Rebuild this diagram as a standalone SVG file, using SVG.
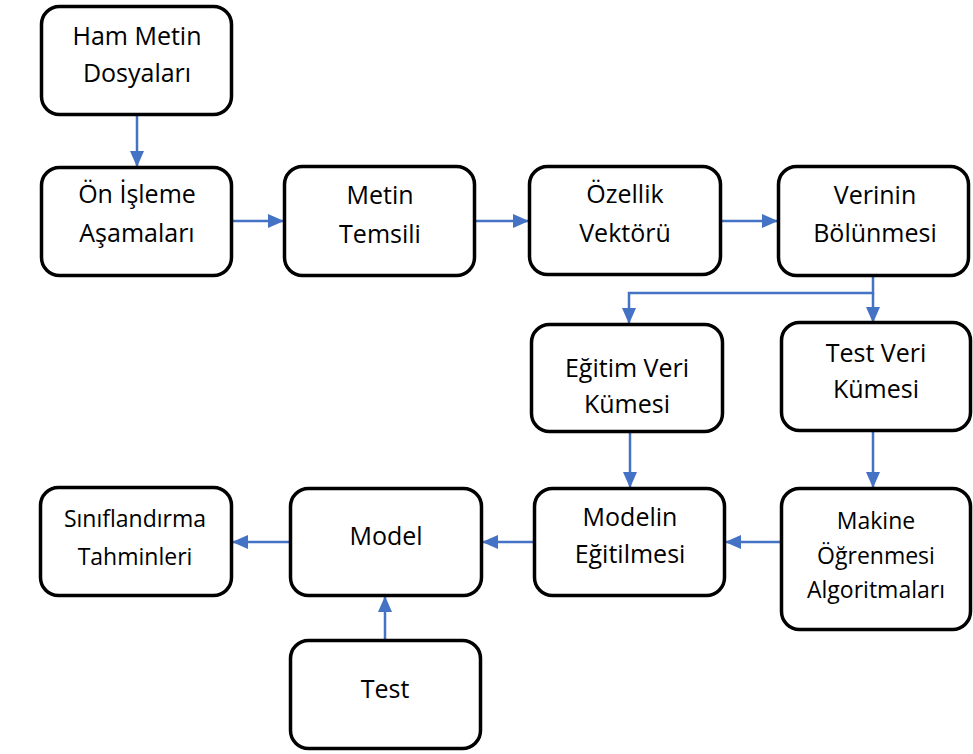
<svg xmlns="http://www.w3.org/2000/svg" width="973" height="754" viewBox="0 0 973 754">
<style>
.box{fill:#fff;stroke:#000;stroke-width:3.5}
.t{font-family:"Open Sans","Liberation Sans",sans-serif;font-size:25px;fill:#000;text-anchor:middle}
.s{font-size:23px}
.c{fill:none;stroke:#4472C4;stroke-width:2.5}
</style>
<defs>
<marker id="ah" markerUnits="userSpaceOnUse" markerWidth="16" markerHeight="16" viewBox="0 0 16 16" refX="15" refY="8" orient="auto">
<path d="M0,1 L16,8 L0,15 Z" fill="#4472C4"/>
</marker>
</defs>
<rect width="973" height="754" fill="#fff"/>
<g id="connectors">
<path class="c" d="M137,116 V166" marker-end="url(#ah)"/>
<path class="c" d="M233,221 H283" marker-end="url(#ah)"/>
<path class="c" d="M476,221 H528" marker-end="url(#ah)"/>
<path class="c" d="M722,221 H777" marker-end="url(#ah)"/>
<path class="c" d="M873,276 V293 H629 V323" marker-end="url(#ah)"/>
<path class="c" d="M873,293 V322" marker-end="url(#ah)"/>
<path class="c" d="M630,433 V487" marker-end="url(#ah)"/>
<path class="c" d="M873,432 V487" marker-end="url(#ah)"/>
<path class="c" d="M780,542 H726" marker-end="url(#ah)"/>
<path class="c" d="M533,542 H483" marker-end="url(#ah)"/>
<path class="c" d="M289,542 H233" marker-end="url(#ah)"/>
<path class="c" d="M385,639 V597" marker-end="url(#ah)"/>
</g>
<g id="n1"><rect class="box" x="41.5" y="6.5" width="190" height="108" rx="18"/>
<text class="t" x="137" y="45">Ham Metin</text><text class="t" x="137" y="82">Dosyaları</text></g>
<g id="n2"><rect class="box" x="41.5" y="167.5" width="190" height="108" rx="18"/>
<text class="t" x="137" y="203">Ön İşleme</text><text class="t" x="137" y="242">Aşamaları</text></g>
<g id="n3"><rect class="box" x="284.5" y="166.5" width="190" height="109" rx="18"/>
<text class="t" x="380" y="204">Metin</text><text class="t" x="380" y="243">Temsili</text></g>
<g id="n4"><rect class="box" x="529.5" y="166.5" width="191" height="108" rx="18"/>
<text class="t" x="625" y="203">Özellik</text><text class="t" x="625" y="242">Vektörü</text></g>
<g id="n5"><rect class="box" x="778.5" y="166.5" width="190" height="109" rx="18"/>
<text class="t" x="875" y="204">Verinin</text><text class="t" x="875" y="242">Bölünmesi</text></g>
<g id="n6"><rect class="box" x="531.5" y="324.5" width="191" height="107" rx="18"/>
<text class="t" x="627" y="377">Eğitim Veri</text><text class="t" x="627" y="413">Kümesi</text></g>
<g id="n7"><rect class="box" x="781.5" y="322.5" width="189" height="108" rx="18"/>
<text class="t" x="876" y="362">Test Veri</text><text class="t" x="876" y="398">Kümesi</text></g>
<g id="n8"><rect class="box" x="534.5" y="488.5" width="190" height="107" rx="18"/>
<text class="t" x="630" y="526">Modelin</text><text class="t" x="630" y="563">Eğitilmesi</text></g>
<g id="n9"><rect class="box" x="781.5" y="488.5" width="189" height="141" rx="18"/>
<text class="t s" x="876" y="529">Makine</text><text class="t s" x="876" y="564">Öğrenmesi</text><text class="t s" x="876" y="598">Algoritmaları</text></g>
<g id="n10"><rect class="box" x="290.5" y="488.5" width="191" height="107" rx="18"/>
<text class="t" x="386" y="545">Model</text></g>
<g id="n11"><rect class="box" x="40.5" y="487.5" width="191" height="108" rx="18"/>
<text class="t s" x="135" y="527">Sınıflandırma</text><text class="t s" x="135" y="565">Tahminleri</text></g>
<g id="n12"><rect class="box" x="290.5" y="640.5" width="190" height="108" rx="18"/>
<text class="t" x="385" y="698">Test</text></g>
</svg>
